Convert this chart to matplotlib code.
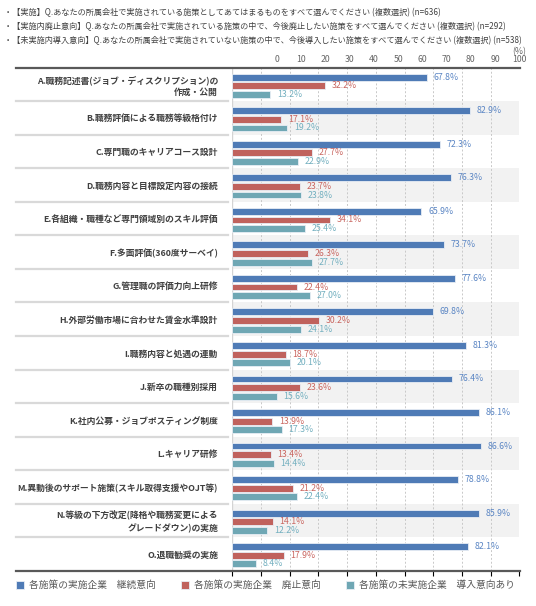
import numpy as np
import matplotlib
matplotlib.use("Agg")
import matplotlib.pyplot as plt
import matplotlib.transforms as mtransforms

plt.rcParams['font.family'] = ['Noto Sans CJK JP', 'DejaVu Sans']

# ---- datos ----
categorias = [
    "A.職務記述書(ジョブ・ディスクリプション)の\n作成・公開",
    "B.職務評価による職務等級格付け",
    "C.専門職のキャリアコース設計",
    "D.職務内容と目標設定内容の接続",
    "E.各組織・職種など専門領域別のスキル評価",
    "F.多面評価(360度サーベイ)",
    "G.管理職の評価力向上研修",
    "H.外部労働市場に合わせた賃金水準設計",
    "I.職務内容と処遇の連動",
    "J.新卒の職種別採用",
    "K.社内公募・ジョブポスティング制度",
    "L.キャリア研修",
    "M.異動後のサポート施策(スキル取得支援やOJT等)",
    "N.等級の下方改定(降格や職務変更による\nグレードダウン)の実施",
    "O.退職勧奨の実施",
]
continuar = [67.8, 82.9, 72.3, 76.3, 65.9, 73.7, 77.6, 69.8, 81.3, 76.4, 86.1, 86.6, 78.8, 85.9, 82.1]
abolir = [32.2, 17.1, 27.7, 23.7, 34.1, 26.3, 22.4, 30.2, 18.7, 23.6, 13.9, 13.4, 21.2, 14.1, 17.9]
introducir = [13.2, 19.2, 22.9, 23.8, 25.4, 27.7, 27.0, 24.1, 20.1, 15.6, 17.3, 14.4, 22.4, 12.2, 8.4]
series_nombres = ["各施策の実施企業　継続意向", "各施策の実施企業　廃止意向", "各施策の未実施企業　導入意向あり"]
ticks = list(range(0, 101, 10))

cabecera = [
    "・【実施】Q.あなたの所属会社で実施されている施策としてあてはまるものをすべて選んでください (複数選択) (n=636)",
    "・【実施内廃止意向】Q.あなたの所属会社で実施されている施策の中で、今後廃止したい施策をすべて選んでください (複数選択) (n=292)",
    "・【未実施内導入意向】Q.あなたの所属会社で実施されていない施策の中で、今後導入したい施策をすべて選んでください (複数選択) (n=538)",
]

colores = ["#4f7bb6", "#c0625d", "#6fa7b4"]
colores_txt = ["#5b86c4", "#c9655f", "#72afbf"]

# ---- figura ----
W, H = 536, 606
fig = plt.figure(figsize=(W / 100, H / 100), dpi=100)
ax = fig.add_axes([232.3 / W, 1 - 570.7 / H, 287 / W, 503 / H])

n = len(categorias)
y = np.arange(n)
paso = 0.257
alto = 0.205
desp = 0.04

# fondo de filas alternas
for i in range(n):
    if i % 2 == 1:
        ax.axhspan(i - 0.5, i + 0.5, color="#f2f2f2", zorder=0, lw=0)

for k, vals in enumerate([continuar, abolir, introducir]):
    pos = y + (k - 1) * paso + desp
    bars = ax.barh(pos, vals, height=alto, color=colores[k], edgecolor="#e8eef5",
                   linewidth=0.6, zorder=3, label=series_nombres[k])
    for p, v in zip(pos, vals):
        ax.text(v + 2.3, p, "%.1f%%" % v, va="center", ha="left",
                fontsize=6.3, color=colores_txt[k], zorder=4)

ax.set_xlim(0, 100)
ax.set_ylim(n - 0.5, -0.5)
ax.set_xticks(ticks)
ax.set_yticks([])
ax.xaxis.grid(True, linestyle=(0, (2, 2)), color="#c8c8c8", linewidth=0.7, zorder=1)
ax.tick_params(axis="x", bottom=False, labelbottom=False)
for s in ax.spines.values():
    s.set_visible(False)
ax.axvline(0, color="#d4d4d4", lw=1.0, zorder=2)

# etiquetas de categorias
for i, c in enumerate(categorias):
    ax.text(-5, i + desp, c, ha="right", va="center", fontsize=6.35,
            fontweight="bold", color="#404040", linespacing=1.4,
            multialignment="right")

# lineas separadoras
trans = mtransforms.blended_transform_factory(fig.transFigure, ax.transData)
for i in range(1, n):
    ax.plot([16 / W, 228 / W], [i - 0.5, i - 0.5], transform=trans, color="#d9d9d9",
            lw=1.6, clip_on=False, zorder=2)
for yy in [-0.5, n - 0.5]:
    ax.plot([16 / W, 520 / W], [yy, yy], transform=trans, color="#595959",
            lw=1.6, clip_on=False, zorder=5)

# eje superior desplazado
ax2 = ax.twiny()
ax2.set_xlim(-18.4, 100)
ax2.set_xticks(ticks)
ax2.set_xticklabels([str(t) for t in ticks])
ax2.tick_params(axis="x", top=True, length=0, pad=2.5, labelsize=6.3, labelcolor="#666666")
for s in ax2.spines.values():
    s.set_visible(False)
fig.text(519 / W, 1 - 52 / H, "(%)", ha="center", va="center", fontsize=6.3, color="#666666")

# cabecera
for j, t in enumerate(cabecera):
    fig.text(4 / W, 1 - (13 + 14 * j) / H, t, ha="left", va="center", fontsize=5.85, color="#404040")

# leyenda
h, l = ax.get_legend_handles_labels()
fig.legend(h, l, loc="center left", bbox_to_anchor=(11 / W, 1 - 585 / H), ncol=3,
           frameon=False, fontsize=7, handlelength=0.85, handleheight=0.85,
           handletextpad=0.5, columnspacing=2.6, labelcolor="#595959", borderpad=0)

fig.savefig("out.png", dpi=100)
